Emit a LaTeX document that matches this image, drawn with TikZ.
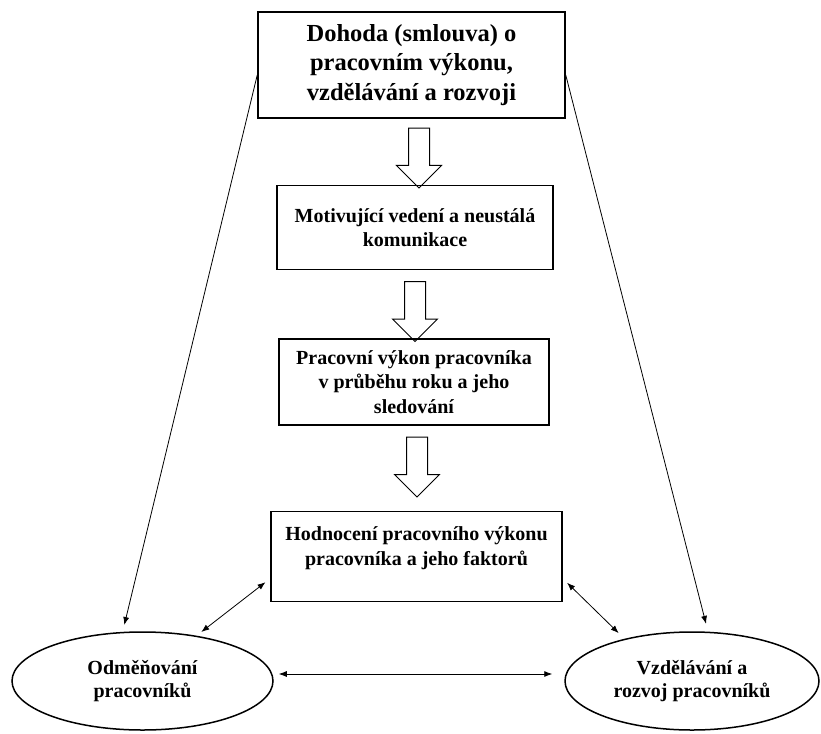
\documentclass[tikz,border=0pt]{standalone}
\usepackage{fontspec}
\setmainfont{Liberation Serif}
\usetikzlibrary{arrows.meta,calc,positioning,shapes.geometric,shapes.arrows}

\begin{document}
\begin{tikzpicture}[
    box/.style={draw,line width=1.5pt,align=center,inner sep=0pt,
                font=\bfseries\fontsize{20}{24.5}\selectfont},
    oval/.style={ellipse,draw,line width=1.5pt,align=center,inner sep=0pt,
                 minimum height=98pt,font=\bfseries\fontsize{20}{23}\selectfont},
    hollow/.style={single arrow,draw,line width=1pt,shape border rotate=270,
                   inner sep=10pt,single arrow head extend=12pt,minimum height=60pt},
    arr/.style={-{Latex[length=8pt,width=6pt]},line width=.8pt},
    biarr/.style={{Latex[length=8pt,width=6pt]}-{Latex[length=8pt,width=6pt]},line width=.8pt}]
  \useasboundingbox (0,0) rectangle (821pt,-733pt);
  \node[box,minimum width=307pt,minimum height=106pt,
        font=\bfseries\fontsize{24.5}{29.5}\selectfont] (dohoda) at (411.5pt,-65pt)
    {Dohoda (smlouva) o\\ pracovním výkonu,\\ vzdělávání a rozvoji};
  \node[box,minimum width=276pt,minimum height=84pt,below=66pt of dohoda,xshift=3.5pt] (vedeni)
    {Motivující vedení a neustálá\\ komunikace};
  \node[box,minimum width=270pt,minimum height=86pt,below=68pt of vedeni,xshift=-1pt] (vykon)
    {Pracovní výkon pracovníka\\ v průběhu roku a jeho\\ sledování};
  \node[box,minimum width=291pt,minimum height=90pt,below=85pt of vykon,xshift=2.5pt] (hodnoceni)
    {Hodnocení pracovního výkonu\\ pracovníka a jeho faktorů\\[-4pt]\mbox{}};
  \node[oval,minimum width=261pt] (odmena) at (142.5pt,-681pt) {Odměňování\\ pracovníků};
  \node[oval,minimum width=254pt] (rozvoj) at (692pt,-681pt) {Vzdělávání a\\ rozvoj pracovníků};
  \node[hollow] (s1) at ($(dohoda.south)+(7.5pt,-34pt)$) {};
  \node[hollow] (s2) at ($(vedeni.south)+(0pt,-36pt)$) {};
  \node[hollow] (s3) at ($(vykon.south)+(3pt,-36pt)$) {};
  \draw[arr,shorten >=7pt] ([yshift=-10pt]dohoda.west) -- (odmena.112);
  \draw[arr,shorten >=8pt] ([yshift=-10pt]dohoda.east) -- (rozvoj.72);
  \draw[biarr,shorten <=6pt,shorten >=6pt] ([yshift=-22pt]hodnoceni.west) -- (odmena.40);
  \draw[biarr,shorten <=6pt,shorten >=8pt] ([yshift=-22pt]hodnoceni.east) -- (rozvoj.148);
  \draw[biarr,shorten <=5pt,shorten >=12pt] ([yshift=7pt]odmena.east) -- ([yshift=7pt]rozvoj.west);
\end{tikzpicture}
\end{document}
